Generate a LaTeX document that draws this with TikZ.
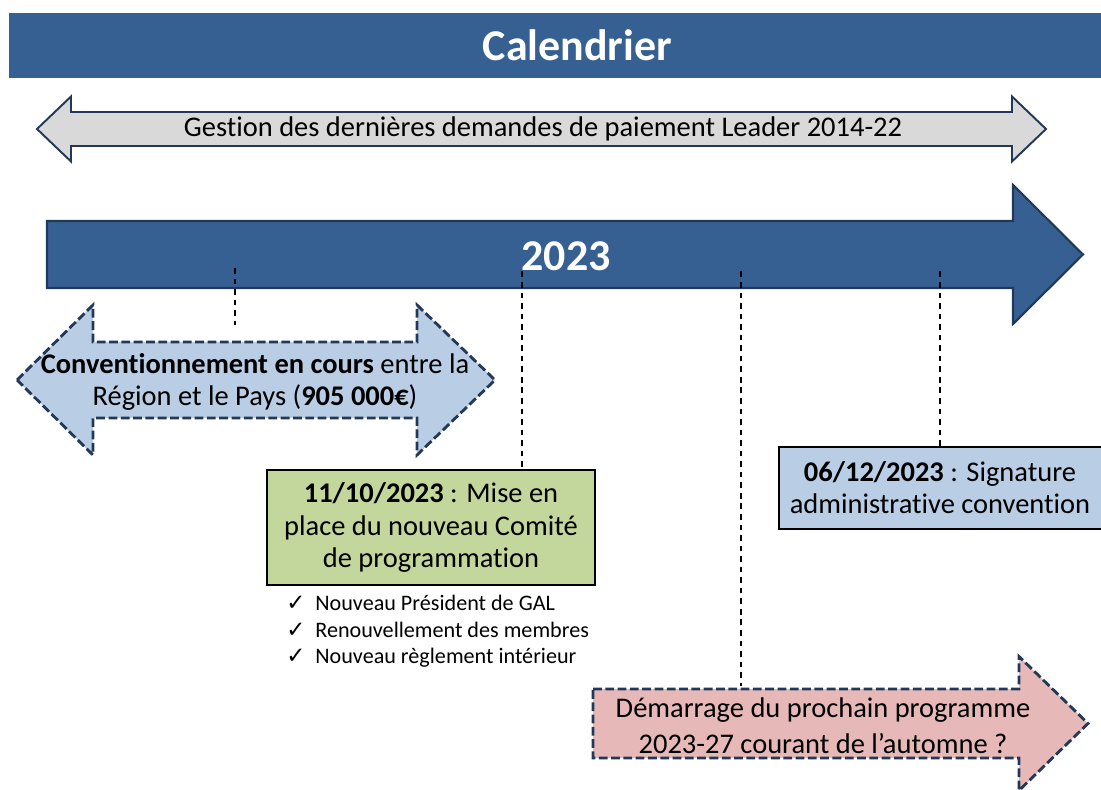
\documentclass[tikz,border=0pt]{standalone}
\usepackage{fontspec}
\setmainfont{Carlito}[Ligatures=NoCommon]
\newfontfamily\checkfont{DejaVu Sans}

\definecolor{titleblue}{RGB}{54,96,146}
\definecolor{arrowedge}{RGB}{33,56,88}
\definecolor{greyfill}{RGB}{217,217,217}
\definecolor{lightblue}{RGB}{185,205,229}
\definecolor{lightgreen}{RGB}{195,214,155}
\definecolor{lightpink}{RGB}{230,185,184}

\newcommand{\checkitem}{\makebox[0.58cm][l]{\checkfont\fontsize{13}{15}\selectfont ✓}}

\tikzset{
    bodytext/.style={align=center, inner sep=0pt, font=\fontsize{16.2}{18.5}\selectfont},
    bigtext/.style={white, font=\fontsize{25}{30}\selectfont\bfseries},
    dashedarrow/.style={draw=arrowedge, line width=1.6pt, dash pattern=on 5pt off 2pt},
    datebox/.style={draw=black, line width=1.4pt},
    guide/.style={black, line width=1.2pt, dash pattern=on 3.2pt off 2.8pt},
}

\begin{document}
\begin{tikzpicture}
    \useasboundingbox (0,0) rectangle (22.02,15.78);
    \clip (0,0) rectangle (22.02,15.78);

    % Title bar
    \fill[titleblue] (0.18,14.22) rectangle (22.02,15.52);
    \node[bigtext] (title) at (11.55,14.87) {Calendrier};

    % Grey double arrow (old programme)
    \draw[fill=greyfill, draw=arrowedge, line width=1.1pt]
        (0.74,13.2) -- (1.42,13.85) -- (1.42,13.54) -- (20.24,13.54) -- (20.24,13.85)
        -- (20.92,13.2) -- (20.24,12.55) -- (20.24,12.86) -- (1.42,12.86) -- (1.42,12.55) -- cycle;
    \node[bodytext] (gestion) at (10.86,13.2) {Gestion des dernières demandes de paiement Leader 2014-22};

    % Year arrow
    \draw[fill=titleblue, draw=arrowedge, line width=1.2pt]
        (0.94,11.36) -- (20.26,11.36) -- (20.26,12.08) -- (21.66,10.69)
        -- (20.26,9.3) -- (20.26,10.02) -- (0.94,10.02) -- cycle;
    \node[bigtext] (year) at (11.32,10.66) {2023};

    % Marks on the year arrow
    \coordinate (t1) at (4.7,10.42);
    \coordinate (t2) at (10.44,10.35);
    \coordinate (t3) at (14.82,10.35);
    \coordinate (t4) at (18.8,10.35);

    % Conventionnement (double arrow)
    \draw[dashedarrow, fill=lightblue]
        (0.34,8.18) -- (1.86,9.68) -- (1.86,8.94) -- (8.34,8.94) -- (8.34,9.68)
        -- (9.9,8.18) -- (8.34,6.68) -- (8.34,7.42) -- (1.86,7.42) -- (1.86,6.68) -- cycle;
    \node[bodytext] (conv) at (5.1,8.14)
        {\textbf{Conventionnement en cours} entre la\\Région et le Pays (\textbf{905 000€})};
    \coordinate (convtop) at (4.7,9.28);

    % Comite de programmation
    \node[datebox, fill=lightgreen, bodytext, minimum width=6.56cm, minimum height=2.3cm] (comite)
        at (8.62,5.23) {\textbf{11/10/2023} : Mise en\\place du nouveau Comité\\de programmation};
    \node[anchor=west, align=left, inner sep=0pt, font=\fontsize{12.6}{15}\selectfont] (checks)
        at (5.72,3.15) {\checkitem Nouveau Président de GAL\\
                        \checkitem Renouvellement des membres\\
                        \checkitem Nouveau règlement intérieur};

    % Signature (box runs off the right edge)
    \draw[datebox, fill=lightblue] (22.4,6.84) -- (15.58,6.84) -- (15.58,5.2) -- (22.4,5.2);
    \node[bodytext] (signature) at (18.8,6.03) {\textbf{06/12/2023} : Signature\\administrative convention};
    \coordinate (signtop) at (18.8,6.84);

    % Next programme arrow
    \draw[dashedarrow, fill=lightpink]
        (11.86,2.0) -- (20.38,2.0) -- (20.38,2.65) -- (21.76,1.31)
        -- (20.38,-0.03) -- (20.38,0.62) -- (11.86,0.62) -- cycle;
    \node[bodytext] (demarrage) at (16.46,1.27)
        {Démarrage du prochain programme\\[2pt]2023-27 courant de l’automne ?};
    \coordinate (demtop) at (14.82,2.06);

    % Guides
    \draw[guide] (t1) -- (convtop);
    \draw[guide] (t2) -- (t2 |- comite.north);
    \draw[guide] (t3) -- (demtop);
    \draw[guide] (t4) -- (signtop);

\end{tikzpicture}
\end{document}
